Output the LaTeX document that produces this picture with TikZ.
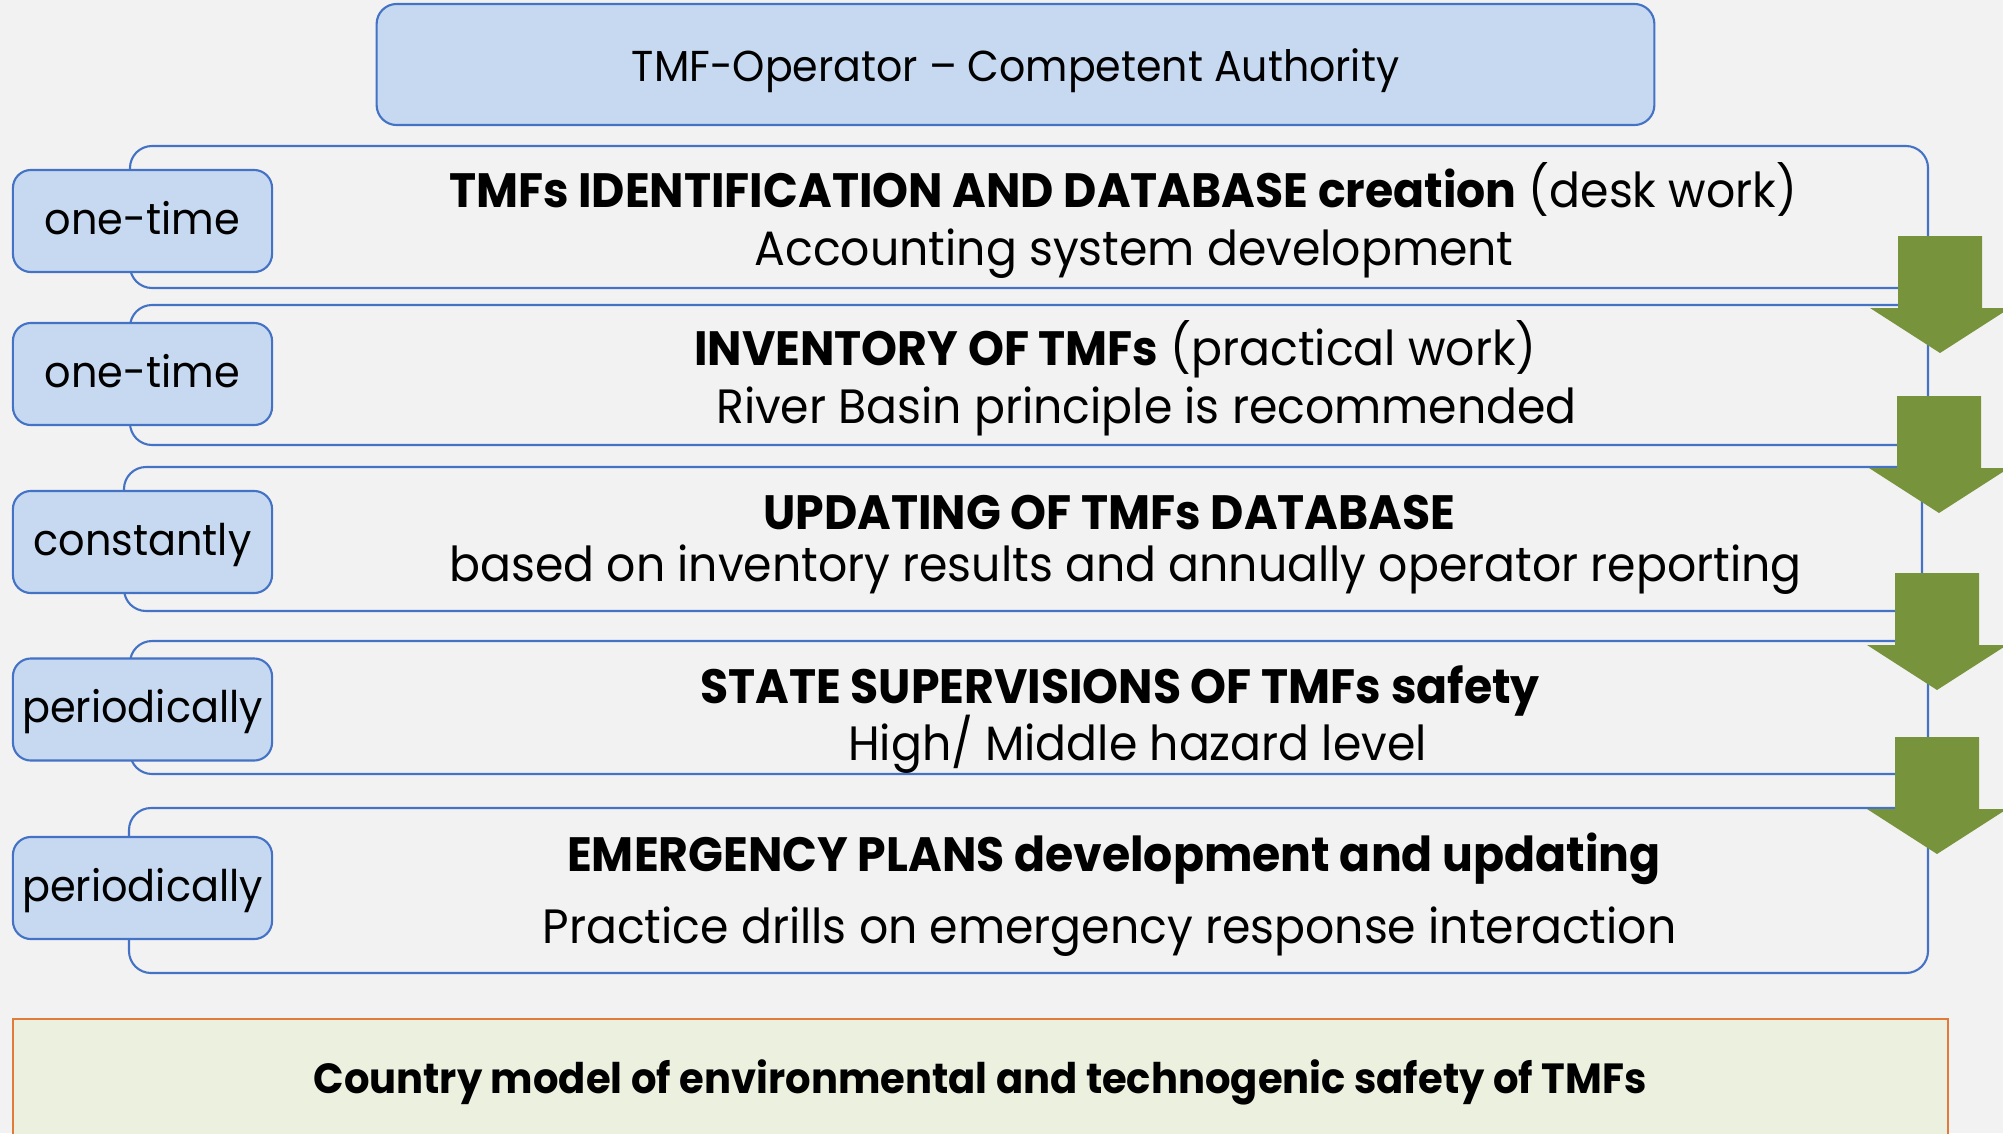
\documentclass[tikz,border=0pt]{standalone}
\usepackage{fontspec}
\setmainfont[FakeStretch=0.95]{Poppins}
\usetikzlibrary{positioning}

\definecolor{bg}{HTML}{F2F2F2}
\definecolor{frame}{HTML}{4472C4}
\definecolor{tagfill}{HTML}{C6D9F1}
\definecolor{arrowgreen}{HTML}{77933C}
\definecolor{modelfill}{HTML}{EBF1DE}
\definecolor{modelframe}{HTML}{E07B39}

\newcommand\rowfont{\fontsize{13.7}{16}\selectfont}
\newcommand\tagfont{\fontsize{12.4}{15}\selectfont}
\newcommand\headfont{\fontsize{12.3}{15}\selectfont}
\newcommand\modelfont{\fontsize{12.0}{15}\selectfont}

\tikzset{
  rowbox/.style={draw=frame, line width=0.6pt, fill=bg, rounded corners=0.22cm},
  tagbox/.style={draw=frame, line width=0.6pt, fill=tagfill, rounded corners=0.18cm,
    minimum width=2.59cm, minimum height=1.02cm, inner sep=0pt,
    text height=0.38cm, text depth=0.12cm, font=\tagfont},
  rowtext/.style={anchor=base, inner sep=0pt, font=\rowfont},
  pics/downarrow/.style={code={
    \fill[arrowgreen] (-42,0) -- (42,0) -- (42,72) -- (70,72) -- (0,117)
      -- (-70,72) -- (-42,72) -- cycle;}}
}

\begin{document}
\begin{tikzpicture}[x=0.01cm, y=-0.01cm]
  % page and background
  \useasboundingbox (0,0) rectangle (2003,1133);
  \fill[bg] (0,0) rectangle (2003,1133);

  % heading box
  \node[draw=frame, line width=0.6pt, fill=tagfill, rounded corners=0.2cm,
        minimum width=12.77cm, minimum height=1.21cm, inner sep=0pt,
        text height=0.45cm, text depth=0.12cm, font=\headfont]
        (authority) at (1015.5,64.5) {TMF-Operator -- Competent Authority};

  % stage frames
  \draw[rowbox] (130,146) rectangle (1928,288);
  \draw[rowbox] (130,305) rectangle (1928,445);
  \draw[rowbox] (124,467) rectangle (1922,611);
  \draw[rowbox] (130,641) rectangle (1928,774);
  \draw[rowbox] (129,808) rectangle (1928,973);

  % frequency tags
  \node[tagbox] (tag1) at (142.5,221)   {one-time};
  \node[tagbox] (tag2) at (142.5,374)   {one-time};
  \node[tagbox] (tag3) at (142.5,542)   {constantly};
  \node[tagbox] (tag4) at (142.5,709.5) {periodically};
  \node[tagbox] (tag5) at (142.5,888)   {periodically};

  % stage texts
  \node[rowtext] (s1a) at (1123,207)   {\textbf{TMFs IDENTIFICATION AND DATABASE creation} (desk work)};
  \node[rowtext] (s1b) at (1134,265)   {Accounting system development};
  \node[rowtext] (s2a) at (1115.5,365) {\textbf{INVENTORY OF TMFs} (practical work)};
  \node[rowtext] (s2b) at (1146.5,423) {River Basin principle is recommended};
  \node[rowtext] (s3a) at (1109.5,529) {\textbf{UPDATING OF TMFs DATABASE}};
  \node[rowtext] (s3b) at (1125.5,581) {based on inventory results and annually operator reporting};
  \node[rowtext] (s4a) at (1120,703)   {\textbf{STATE SUPERVISIONS OF TMFs safety}};
  \node[rowtext] (s4b) at (1137.5,760) {High/ Middle hazard level};
  \node[rowtext] (s5a) at (1114,871)   {\textbf{EMERGENCY PLANS development and updating}};
  \node[rowtext] (s5b) at (1109.5,943) {Practice drills on emergency response interaction};

  % flow arrows between stages
  \pic at (1940,236) {downarrow};
  \pic at (1939,396) {downarrow};
  \pic at (1937,573) {downarrow};
  \pic at (1937,737) {downarrow};

  % country model box
  \draw[draw=modelframe, line width=0.7pt, fill=modelfill] (13,1160) -- (13,1019) -- (1948,1019) -- (1948,1160);
  \node[anchor=base, inner sep=0pt, font=\modelfont\bfseries] (model) at (980,1093)
        {Country model of environmental and technogenic safety of TMFs};
\end{tikzpicture}
\end{document}
